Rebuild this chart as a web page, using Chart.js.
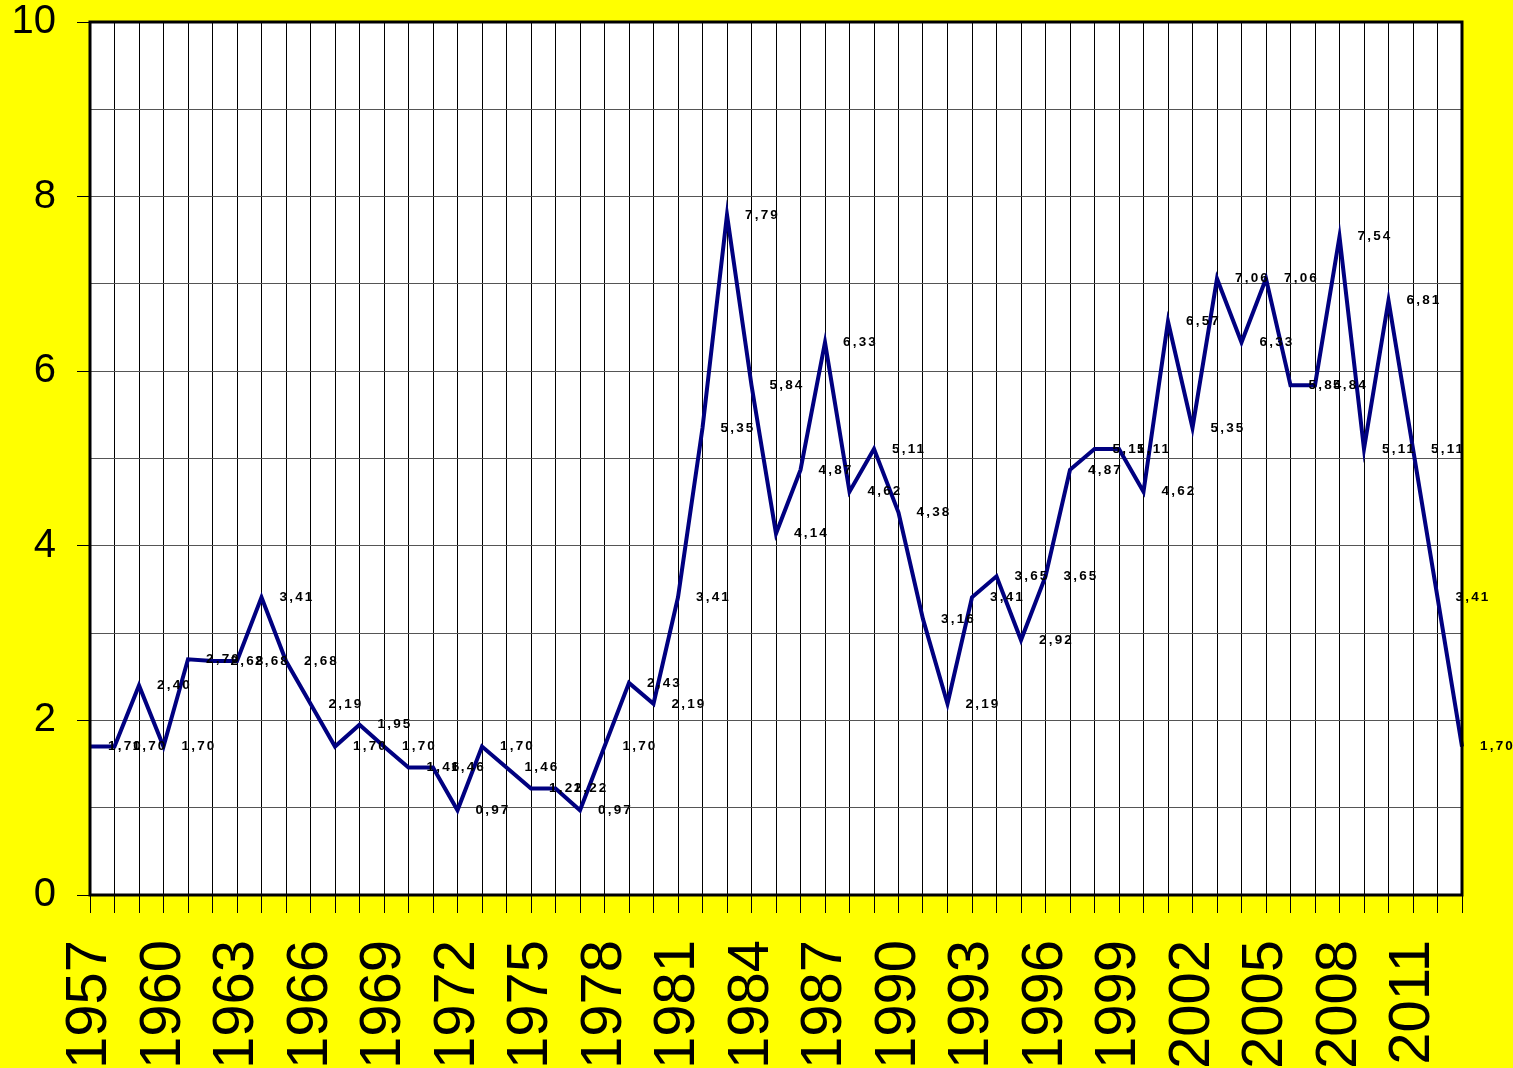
<!DOCTYPE html>
<html>
<head>
<meta charset="utf-8">
<script src="https://cdn.jsdelivr.net/npm/chart.js@4.4.0/dist/chart.umd.min.js"></script>
<style>
    html, body { margin: 0; padding: 0; background: #ffff00; overflow: hidden; }
    #wrap { width: 1513px; height: 1068px; }
</style>
</head>
<body>
<div id="wrap"><canvas id="chart"></canvas></div>
<script>
const years = ['1957', '1958', '1959', '1960', '1961', '1962', '1963', '1964', '1965', '1966',
    '1967', '1968', '1969', '1970', '1971', '1972', '1973', '1974', '1975', '1976',
    '1977', '1978', '1979', '1980', '1981', '1982', '1983', '1984', '1985', '1986',
    '1987', '1988', '1989', '1990', '1991', '1992', '1993', '1994', '1995', '1996',
    '1997', '1998', '1999', '2000', '2001', '2002', '2003', '2004', '2005', '2006',
    '2007', '2008', '2009', '2010', '2011', '2012', '2013'];
const values = [1.70, 1.70, 2.40, 1.70, 2.70, 2.68, 2.68, 3.41, 2.68, 2.19,
    1.70, 1.95, 1.70, 1.46, 1.46, 0.97, 1.70, 1.46, 1.22, 1.22,
    0.97, 1.70, 2.43, 2.19, 3.41, 5.35, 7.79, 5.84, 4.14, 4.87,
    6.33, 4.62, 5.11, 4.38, 3.16, 2.19, 3.41, 3.65, 2.92, 3.65,
    4.87, 5.11, 5.11, 4.62, 6.57, 5.35, 7.06, 6.33, 7.06, 5.84,
    5.84, 7.54, 5.11, 6.81, 5.11, 3.41, 1.70];
const yLabels = [0, 2, 4, 6, 8, 10];
const xLabelEvery = 3;

// yellow page, white plot area
const background = {
    id: 'background',
    beforeDraw(chart) {
        const ctx = chart.ctx;
        const a = chart.chartArea;
        ctx.save();
        ctx.fillStyle = '#ffff00';
        ctx.fillRect(0, 0, chart.width, chart.height);
        ctx.fillStyle = '#ffffff';
        ctx.fillRect(a.left, a.top, a.right - a.left, a.bottom - a.top);
        ctx.restore();
    }
};

// value labels to the right of each point, comma decimal
const pointLabels = {
    id: 'pointLabels',
    afterDatasetsDraw(chart) {
        const ctx = chart.ctx;
        const meta = chart.getDatasetMeta(0);
        ctx.save();
        ctx.font = 'bold 13.5px "Liberation Sans", Arial, sans-serif';
        ctx.letterSpacing = '2.2px';
        ctx.fillStyle = '#000';
        ctx.textAlign = 'left';
        ctx.textBaseline = 'middle';
        meta.data.forEach(function (pt, i) {
            ctx.fillText(values[i].toFixed(2).replace('.', ','), pt.x + 18, pt.y);
        });
        ctx.restore();
    }
};

// thick frame round the plot area
const frame = {
    id: 'frame',
    afterDraw(chart) {
        const ctx = chart.ctx;
        const a = chart.chartArea;
        ctx.save();
        ctx.strokeStyle = '#000';
        ctx.lineWidth = 3;
        ctx.strokeRect(a.left, a.top, a.right - a.left, a.bottom - a.top);
        ctx.restore();
    }
};

new Chart(document.getElementById('chart').getContext('2d'), {
    type: 'line',
    data: {
        labels: years,
        datasets: [{
            data: values,
            borderColor: '#000080',
            borderWidth: 4,
            pointRadius: 0,
            tension: 0,
            fill: false
        }]
    },
    options: {
        responsive: true,
        maintainAspectRatio: false,
        animation: false,
        layout: {
            padding: { top: 22, right: 51, left: 0, bottom: 0 }
        },
        plugins: {
            legend: { display: false },
            tooltip: { enabled: false }
        },
        scales: {
            x: {
                type: 'category',
                offset: false,
                border: { display: false },
                grid: {
                    color: '#000',
                    lineWidth: 1,
                    tickLength: 18,
                    tickColor: '#000'
                },
                ticks: {
                    autoSkip: false,
                    minRotation: 90,
                    maxRotation: 90,
                    padding: 27,
                    color: '#000',
                    font: { family: '"Liberation Sans", Arial, sans-serif', size: 58 },
                    callback: function (v, i) {
                        return i % xLabelEvery === 0 ? this.getLabelForValue(v) : '';
                    }
                },
                afterFit: function (s) {
                    s.height = 173;
                    s.paddingLeft = 0;
                    s.paddingRight = 0;
                }
            },
            y: {
                min: 0,
                max: 10,
                border: { display: false },
                grid: {
                    color: '#555',
                    lineWidth: 1,
                    tickLength: 13,
                    tickColor: function (c) {
                        return yLabels.includes(c.tick.value) ? '#000' : 'rgba(0,0,0,0)';
                    }
                },
                ticks: {
                    stepSize: 1,
                    padding: 21,
                    color: '#000',
                    font: { family: '"Liberation Sans", Arial, sans-serif', size: 40 },
                    callback: function (v) {
                        return yLabels.includes(v) ? String(v) : '';
                    }
                },
                afterFit: function (s) {
                    s.width = 90;
                    s.paddingTop = 0;
                    s.paddingBottom = 0;
                }
            }
        }
    },
    plugins: [background, pointLabels, frame]
});
</script>
</body>
</html>
